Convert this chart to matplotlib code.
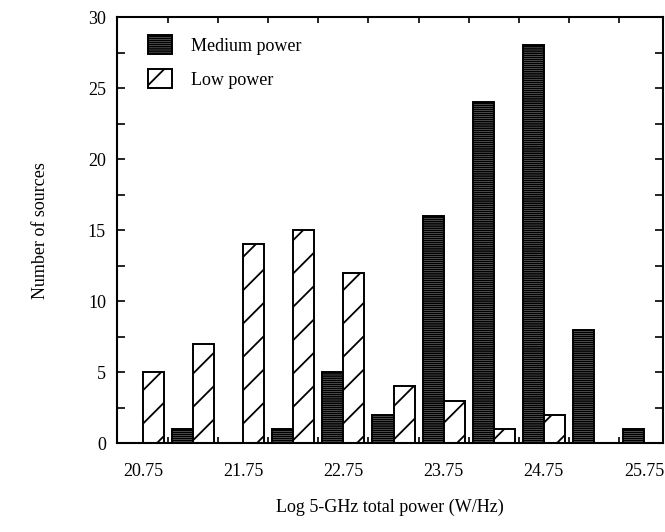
import matplotlib
matplotlib.use("Agg")
import matplotlib.pyplot as plt
from matplotlib.ticker import MultipleLocator, FixedLocator
import numpy as np

# Data
bin_centers = [20.75, 21.25, 21.75, 22.25, 22.75, 23.25, 23.75, 24.25, 24.75, 25.25, 25.75]
medium_power = [0, 1, 0, 1, 5, 2, 16, 24, 28, 8, 1]
low_power = [5, 7, 14, 15, 12, 4, 3, 1, 2, 0, 0]
tick_labels = ["20.75", "21.75", "22.75", "23.75", "24.75", "25.75"]
tick_values = [20.75, 21.75, 22.75, 23.75, 24.75, 25.75]

plt.rcParams['font.family'] = ['Liberation Serif', 'DejaVu Serif']
plt.rcParams['hatch.linewidth'] = 1.3

fig = plt.figure(figsize=(6.65, 5.32), dpi=100)
ax = fig.add_axes([0.176, 0.167, 0.821, 0.801])

w = 0.21
xs = np.array(bin_centers)
mv = np.array(medium_power)
lv = np.array(low_power)
mmask = mv > 0
lmask = lv > 0
hm = ax.bar(xs[mmask], mv[mmask], width=-w, align='edge', facecolor='white',
            edgecolor='black', hatch='--------', linewidth=1.4, label='Medium power')
hl = ax.bar(xs[lmask], lv[lmask], width=w, align='edge', facecolor='white',
            edgecolor='black', hatch='/', linewidth=1.4, label='Low power')

ax.set_xlim(20.49, 25.94)
ax.set_ylim(0, 30)

ax.xaxis.set_major_locator(FixedLocator(tick_values))
ax.set_xticklabels(tick_labels)
ax.xaxis.set_minor_locator(FixedLocator(np.arange(21.0, 25.6, 0.5)))
ax.tick_params(axis='x', which='major', length=0, pad=14, labelsize=13)
ax.tick_params(axis='x', which='minor', length=4, direction='in', top=True, bottom=True, width=1.2)

ax.yaxis.set_major_locator(MultipleLocator(5))
ax.yaxis.set_minor_locator(MultipleLocator(2.5))
ax.tick_params(axis='y', which='both', direction='in', left=True, right=True, length=6, width=1.2, labelsize=13, pad=8)

for s in ax.spines.values():
    s.set_linewidth(1.5)

ax.set_xlabel('Log 5-GHz total power (W/Hz)', fontsize=13, labelpad=14)
ax.set_ylabel('Number of sources', fontsize=13, labelpad=28)

ax.legend(handles=[hm, hl], loc='upper left', bbox_to_anchor=(0.027, 0.995), frameon=False,
          handlelength=1.3, handleheight=1.2, handletextpad=1.1, labelspacing=0.8, fontsize=13)

fig.savefig('out.png', dpi=100)
